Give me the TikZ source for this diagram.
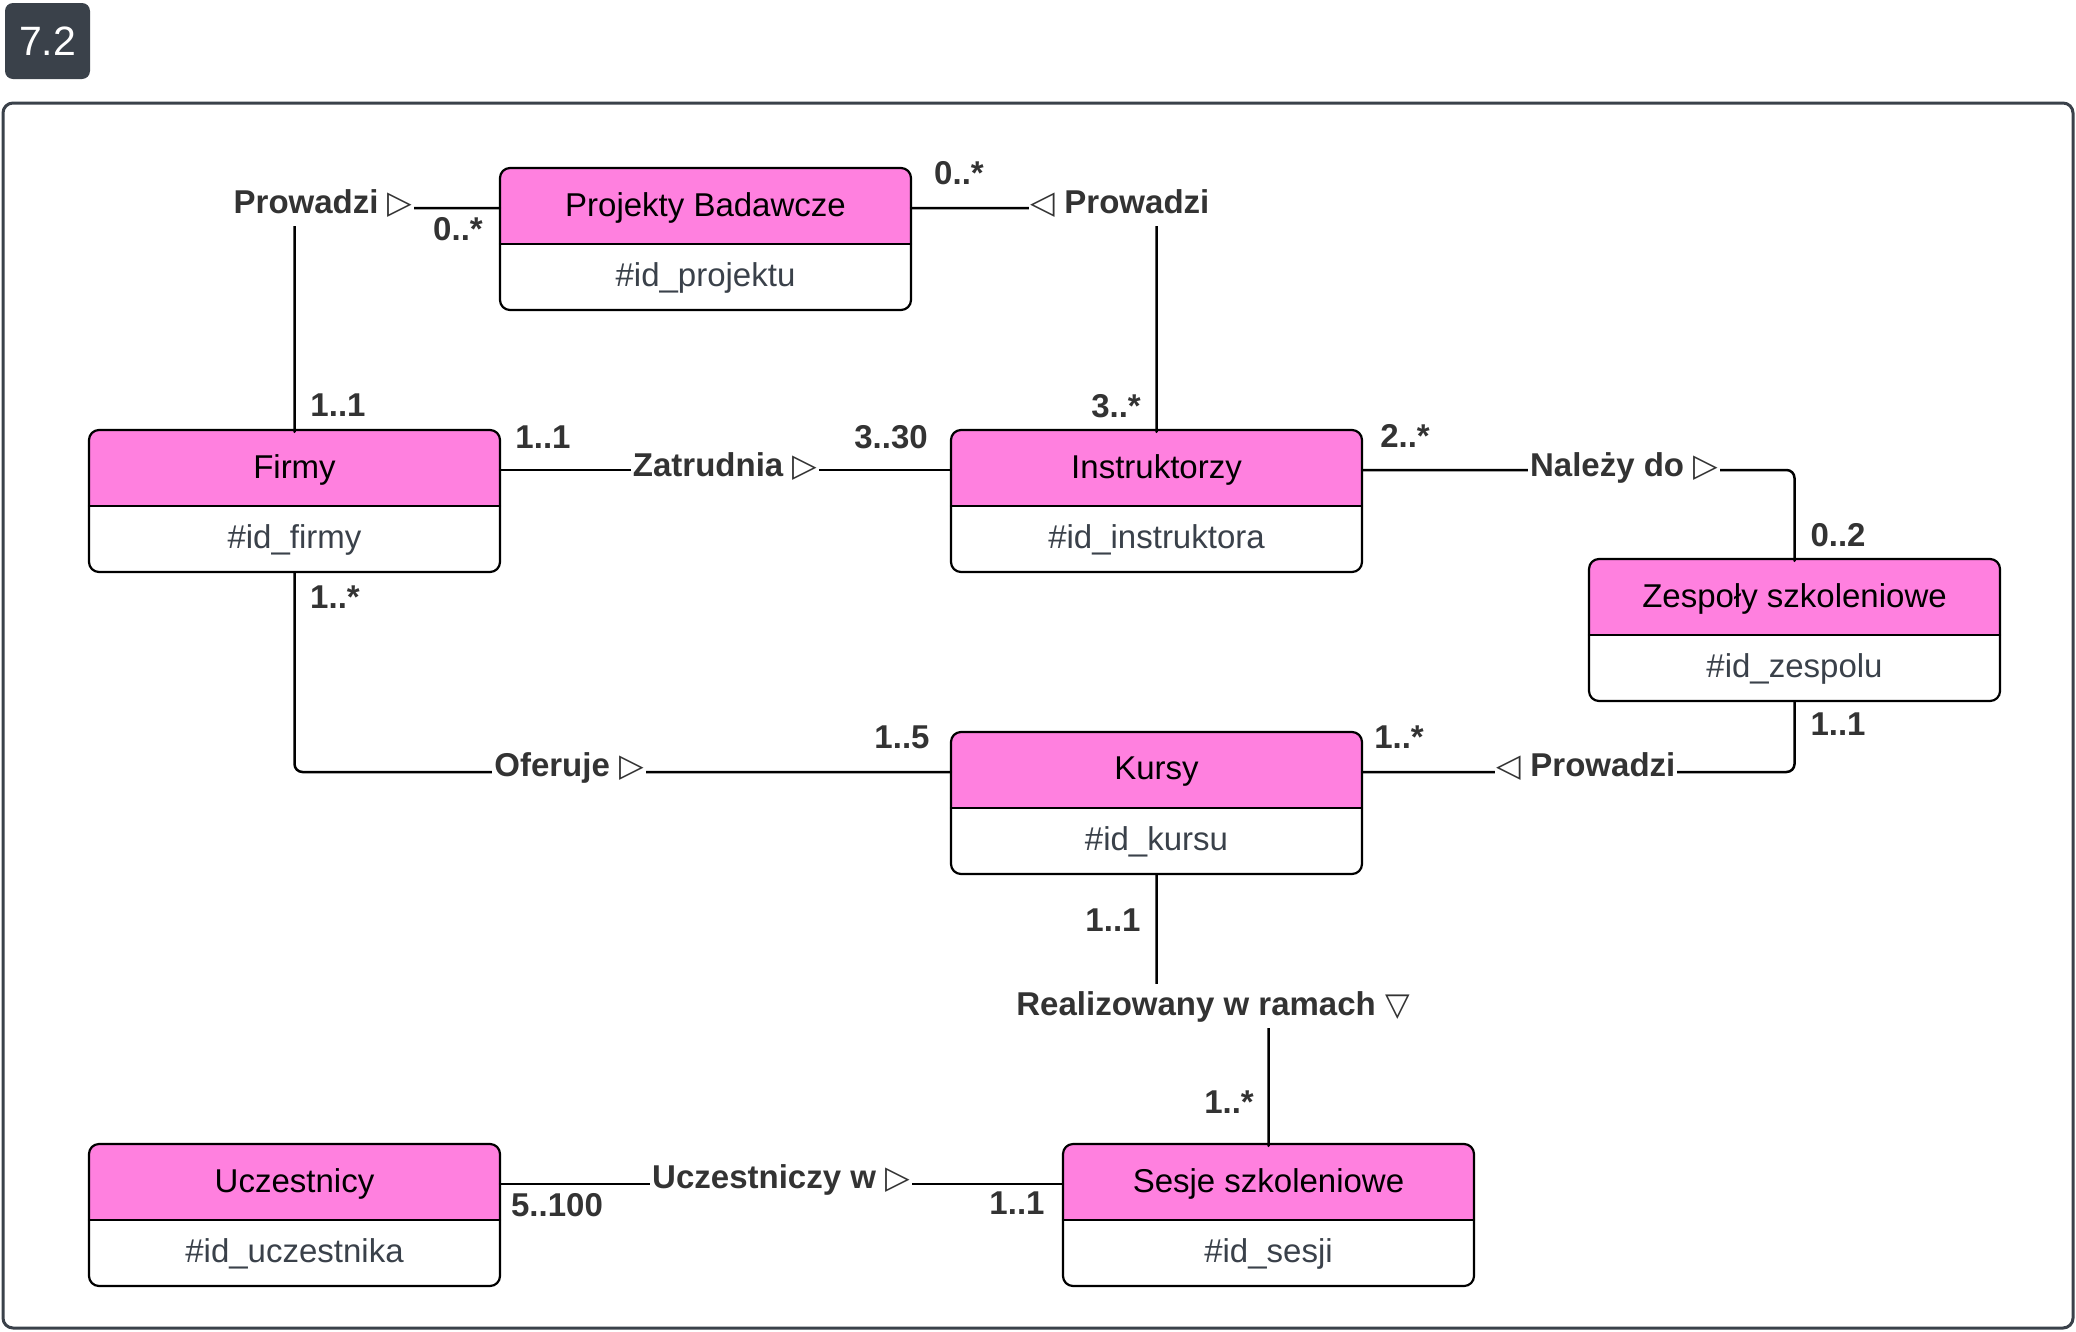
\documentclass[tikz,border=0pt]{standalone}
\usepackage{fontspec}
\setmainfont{Liberation Sans}
\newfontfamily\symfont{DejaVu Sans}
\usepackage{tikz}
\usepackage{xcolor}

\definecolor{headpink}{HTML}{FF80DF}
\definecolor{framegray}{HTML}{3A414A}
\definecolor{lblgray}{HTML}{333333}
\newcommand{\tri}[1]{{\symfont\mdseries\fontsize{32}{34}\selectfont #1}}

\tikzset{
  boxline/.style={line width=2.2pt,draw=black},
  conn/.style={line width=2.5pt,draw=black,rounded corners=8pt},
  headtxt/.style={minimum width=411pt,minimum height=76pt,inner sep=0pt,
    font=\fontsize{33}{40}\selectfont,text=black},
  attrtxt/.style={minimum width=411pt,minimum height=66pt,inner sep=0pt,
    font=\fontsize{33}{40}\selectfont,text=framegray},
  rel/.style={fill=white,inner xsep=2pt,inner ysep=5pt,text height=26pt,text depth=8pt,
    anchor=base,font=\bfseries\fontsize{33}{40}\selectfont,text=lblgray},
  mult/.style={inner sep=0pt,font=\bfseries\fontsize{33}{40}\selectfont,text=lblgray},
  badge/.style={fill=framegray,rounded corners=8pt,minimum width=85pt,minimum height=76pt,
    text=white,font=\fontsize{41}{46}\selectfont},
}

\begin{document}
\begin{tikzpicture}[x=1pt,y=-1pt,line cap=round,line join=round]
\useasboundingbox (0,0) rectangle (2076,1331);
\node[badge] (num) at (47.5,41) {7.2};
\draw[framegray,line width=3pt,rounded corners=10pt] (3,103) rectangle (2073,1328);

% entities: name / x / y / title / key
\foreach \n/\x/\y/\t/\a in {proj/500/168/Projekty Badawcze/\#id\_projektu,
    firmy/89/430/Firmy/\#id\_firmy,
    instr/951/430/Instruktorzy/\#id\_instruktora,
    zesp/1589/559/Zespoły szkoleniowe/\#id\_zespolu,
    kursy/951/732/Kursy/\#id\_kursu,
    uczest/89/1144/Uczestnicy/\#id\_uczestnika,
    sesje/1063/1144/Sesje szkoleniowe/\#id\_sesji} {
\begin{scope}[shift={(\x,\y)}]
    \fill[white,rounded corners=10pt] (0,0) rectangle (411,142);
    \begin{scope}
        \clip[rounded corners=10pt] (0,0) rectangle (411,142);
        \fill[headpink] (0,0) rectangle (411,76);
    \end{scope}
    \draw[boxline,rounded corners=10pt] (0,0) rectangle (411,142);
    \draw[boxline] (0,76) -- (411,76);
    \node[headtxt] (\n) at (205.5,40) {\t};
    \node[attrtxt] (\n-a) at (205.5,110) {\a};
\end{scope}
}

% associations
\coordinate (rj) at (1213,1004);
\draw[conn] (firmy.north) |- (proj.west);
\draw[conn] (proj.east) -| (instr.north);
\draw[conn] (firmy.east) -- (instr.west);
\draw[conn] (instr.east) -| (zesp.north);
\draw[conn] (zesp-a.south) |- (kursy.east);
\draw[conn] (firmy-a.south) |- (kursy.west);
\draw[conn] (kursy-a.south) |- (rj) -| (sesje.north);
\draw[conn] (uczest.east) -- (sesje.west);

\node[rel] (lprow1) at (323,213) {Prowadzi \tri{▷}};
\node[rel] (lprow2) at (1120,213) {\tri{◁} Prowadzi};
\node[rel] (lzatr) at (725,476) {Zatrudnia \tri{▷}};
\node[rel] (lnal) at (1624,476) {Należy do \tri{▷}};
\node[rel] (lprow3) at (1586,776) {\tri{◁} Prowadzi};
\node[rel] (lofer) at (569,776) {Oferuje \tri{▷}};
\node[rel] (lreal) at (1213,1015) {Realizowany w ramach \tri{▽}};
\node[rel] (lucz) at (781,1188) {Uczestniczy w \tri{▷}};

% multiplicities
\foreach \m/\x/\y/\v in {m1/458/229/0..*, m2/338/405/1..1, m3/959/173/0..*,
    m4/1116/406/3..*, m5/543/437/1..1, m6/891/437/3..30, m7/1405/436/2..*,
    m8/1838/535/0..2, m9/1838/724/1..1, m10/1399/737/1..*, m11/335/597/1..*,
    m12/902/737/1..5, m13/1113/920/1..1, m14/1229/1102/1..*, m15/557/1205/5..100,
    m16/1017/1203/1..1}
    \node[mult] (\m) at (\x,\y) {\v};
\end{tikzpicture}
\end{document}
